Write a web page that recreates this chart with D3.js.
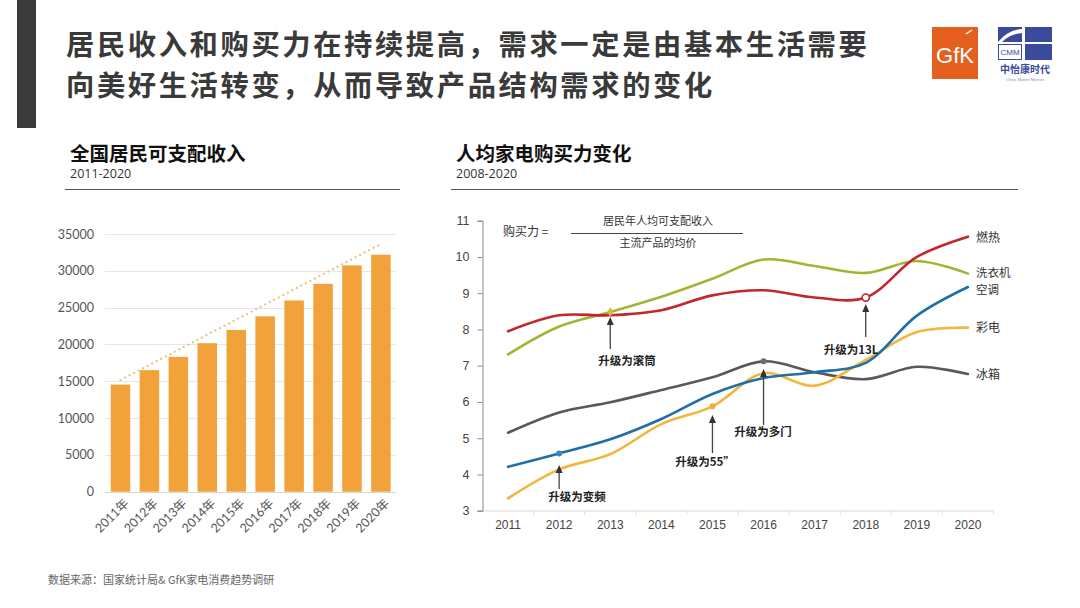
<!DOCTYPE html>
<html>
<head>
<meta charset="utf-8">
<script src="https://cdn.jsdelivr.net/npm/d3@7/dist/d3.min.js"></script>
<style>
  html, body { margin: 0; padding: 0; background: #fff; }
  svg { display: block; font-family: "Noto Sans CJK SC", "Noto Sans", sans-serif; }
</style>
</head>
<body>
<svg id="chart" width="1080" height="608"></svg>
<script>
// ---------------- DATA ----------------
const incomeYears = ["2011年","2012年","2013年","2014年","2015年","2016年","2017年","2018年","2019年","2020年"];
const incomeValues = [14551, 16510, 18311, 20167, 21966, 23821, 25974, 28228, 30733, 32189];
const incomeTrend = [15170, 33640];            // dotted trend line, 2011 -> 2020
const incomeTicks = [0, 5000, 10000, 15000, 20000, 25000, 30000, 35000];

const years = ["2011","2012","2013","2014","2015","2016","2017","2018","2019","2020"];
const powerTicks = [3, 4, 5, 6, 7, 8, 9, 10, 11];
const gasHeater   = [7.95, 8.39, 8.39, 8.53, 8.94, 9.08, 8.88, 8.88, 10.0, 10.56];  // 燃热
const washer      = [7.31, 8.08, 8.48, 8.90, 9.40, 9.93, 9.75, 9.56, 9.89, 9.54];   // 洗衣机
const aircon      = [4.21, 4.58, 4.97, 5.53, 6.22, 6.66, 6.82, 7.08, 8.38, 9.17];   // 空调
const tv          = [3.34, 4.14, 4.56, 5.39, 5.88, 6.79, 6.45, 7.16, 7.93, 8.05];   // 彩电
const fridge      = [5.15, 5.71, 5.99, 6.33, 6.68, 7.12, 6.82, 6.63, 6.97, 6.77];   // 冰箱
const seriesNames = ["燃热", "洗衣机", "空调", "彩电", "冰箱"];
const annotations = ["升级为滚筒", "升级为变频", "升级为55”", "升级为多门", "升级为13L"];
const titleLines = ["居民收入和购买力在持续提高，需求一定是由基本生活需要", "向美好生活转变，从而导致产品结构需求的变化"];

// ---------------- SETUP ----------------
const svg = d3.select("#chart");
const CJK = "'Noto Sans CJK SC', 'Noto Sans', sans-serif";
const LAT = "'Liberation Sans', Arial, sans-serif";

// left dark bar
svg.append("rect").attr("x", 17).attr("y", 0).attr("width", 19).attr("height", 128).attr("fill", "#3b3b3b");

// main title
const title = svg.append("g").attr("font-family", CJK).attr("font-weight", 700).attr("fill", "#3a3a3a")
  .attr("font-size", 28.3).attr("letter-spacing", 2.6);
title.append("text").attr("x", 66).attr("y", 55).text(titleLines[0]);
title.append("text").attr("x", 66).attr("y", 96).text(titleLines[1]);

// logos
svg.append("rect").attr("x", 932).attr("y", 27).attr("width", 46).attr("height", 52).attr("fill", "#e5601f");
svg.append("text").attr("x", 955).attr("y", 63).attr("text-anchor", "middle").attr("fill", "#fff")
  .attr("font-family", LAT).attr("font-size", 22).text("GfK");
svg.append("path").attr("d", "M966,34 L972,30").attr("stroke", "#fff").attr("stroke-width", 1.5);
const cmm = svg.append("g");
cmm.append("rect").attr("x", 998).attr("y", 27).attr("width", 24).attr("height", 15).attr("fill", "#3c4a9c");
cmm.append("rect").attr("x", 1025).attr("y", 27).attr("width", 27).attr("height", 15).attr("fill", "#3c4a9c");
cmm.append("rect").attr("x", 1025).attr("y", 44).attr("width", 27).attr("height", 16).attr("fill", "#3c4a9c");
cmm.append("path").attr("d", "M998,42 Q1008,30 1022,29 L1022,33 Q1010,34 1002,42 Z").attr("fill", "#fff");
cmm.append("rect").attr("x", 998.5).attr("y", 44.5).attr("width", 23).attr("height", 15).attr("fill", "#fff").attr("stroke", "#3c4a9c");
cmm.append("text").attr("x", 1010).attr("y", 55).attr("text-anchor", "middle").attr("font-family", LAT)
  .attr("font-size", 8).attr("fill", "#3c4a9c").text("CMM");
cmm.append("text").attr("x", 1025).attr("y", 73).attr("text-anchor", "middle").attr("font-family", CJK)
  .attr("font-weight", 700).attr("font-size", 10).attr("fill", "#3c4a9c").text("中怡康时代");
cmm.append("text").attr("x", 1025).attr("y", 81).attr("text-anchor", "middle").attr("font-family", LAT)
  .attr("font-size", 4).attr("fill", "#8a8fb8").text("China Market Monitor");

// sub titles
function subTitle(x, lineEnd, main, sub) {
  svg.append("text").attr("x", x).attr("y", 161).attr("font-family", CJK).attr("font-weight", 700)
    .attr("font-size", 19.5).attr("fill", "#111").text(main);
  svg.append("text").attr("x", x).attr("y", 178).attr("font-family", "'Open Sans', sans-serif")
    .attr("font-size", 12.5).attr("fill", "#333").text(sub);
  svg.append("line").attr("x1", x - 5).attr("x2", lineEnd).attr("y1", 189.5).attr("y2", 189.5)
    .attr("stroke", "#555").attr("stroke-width", 1);
}
subTitle(70, 400, "全国居民可支配收入", "2011-2020");
subTitle(456, 1018, "人均家电购买力变化", "2008-2020");

// ---------------- LEFT BAR CHART ----------------
const xL = d3.scaleBand().domain(incomeYears).range([106, 395.4]).paddingInner(0.326).paddingOuter(0.163);
const yL = d3.scaleLinear().domain([0, 35000]).range([491.7, 234]);

const gridL = svg.append("g");
gridL.selectAll("line").data(incomeTicks).join("line")
  .attr("x1", 105).attr("x2", 396)
  .attr("y1", d => Math.round(yL(d)) + 0.5).attr("y2", d => Math.round(yL(d)) + 0.5)
  .attr("stroke", d => d === 0 ? "#d6d6d6" : "#e6e6e6").attr("stroke-width", 1);

const yAxisL = d3.axisLeft(yL).tickValues(incomeTicks).tickSize(0).tickPadding(0).tickFormat(d3.format("d"));
const gyl = svg.append("g").attr("transform", "translate(94,0)").call(yAxisL);
gyl.select(".domain").remove();
gyl.selectAll("text").attr("font-family", "Lato, 'Open Sans', sans-serif").attr("font-size", 12.5).attr("fill", "#555");

svg.append("g").selectAll("rect").data(incomeValues).join("rect")
  .attr("x", (d, i) => xL(incomeYears[i]))
  .attr("width", xL.bandwidth())
  .attr("y", d => yL(d))
  .attr("height", d => yL(0) - yL(d))
  .attr("fill", "#f2a23a");

// trend line (dotted)
svg.append("line")
  .attr("x1", xL(incomeYears[0]) + xL.bandwidth() / 2)
  .attr("x2", xL(incomeYears[incomeYears.length - 1]) + xL.bandwidth() / 2)
  .attr("y1", yL(incomeTrend[0])).attr("y2", yL(incomeTrend[1]))
  .attr("stroke", "#edbf7a").attr("stroke-width", 2.2).attr("stroke-dasharray", "0.1,5").attr("stroke-linecap", "round");

// rotated x labels
const xAxisL = d3.axisBottom(xL).tickSize(0).tickPadding(0);
const gxl = svg.append("g").attr("transform", "translate(0,497)").call(xAxisL);
gxl.select(".domain").remove();
gxl.selectAll("text")
  .attr("font-family", "Lato, 'Noto Sans CJK SC', sans-serif").attr("font-size", 12.5).attr("fill", "#555")
  .attr("text-anchor", "end").attr("dy", "0.35em")
  .attr("transform", "translate(6,4) rotate(-45)");

// ---------------- RIGHT LINE CHART ----------------
const xR = d3.scaleBand().domain(years).range([482.5, 993.5]);
const yR = d3.scaleLinear().domain([3, 11]).range([510.7, 220.7]);
const cx = i => xR(years[i]) + xR.bandwidth() / 2;

// x axis
const xAxisR = d3.axisBottom(xR).tickSize(0).tickPadding(10);
const gxr = svg.append("g").attr("transform", "translate(0,510.5)").call(xAxisR);
gxr.select(".domain").attr("stroke", "#d9d9d9");
gxr.selectAll("text").attr("font-family", LAT).attr("font-size", 12).attr("fill", "#444");
// boundary ticks
svg.append("g").selectAll("line").data(years.slice(1).concat(["end"])).join("line")
  .attr("x1", (d, i) => i < years.length - 1 ? xR(d) : xR.range()[1])
  .attr("x2", (d, i) => i < years.length - 1 ? xR(d) : xR.range()[1])
  .attr("y1", 510.5).attr("y2", 515).attr("stroke", "#e0e0e0");

// y axis
const yAxisR = d3.axisLeft(yR).tickValues(powerTicks).tickSize(5).tickPadding(8).tickFormat(d3.format("d"));
const gyr = svg.append("g").attr("transform", "translate(482.5,0)").call(yAxisR);
gyr.select(".domain").attr("stroke", "#888");
gyr.selectAll(".tick line").attr("stroke", "#888");
gyr.selectAll("text").attr("font-family", LAT).attr("font-size", 12.5).attr("fill", "#444");

// formula
const fm = svg.append("g").attr("font-family", CJK).attr("fill", "#333");
fm.append("text").attr("x", 503).attr("y", 235.5).attr("font-size", 12).text("购买力 =");
fm.append("text").attr("x", 658).attr("y", 225).attr("font-size", 11).attr("text-anchor", "middle").text("居民年人均可支配收入");
fm.append("line").attr("x1", 571).attr("x2", 743).attr("y1", 233.5).attr("y2", 233.5).attr("stroke", "#444");
fm.append("text").attr("x", 658).attr("y", 247).attr("font-size", 11).attr("text-anchor", "middle").text("主流产品的均价");

// lines
const seriesData = [gasHeater, washer, aircon, tv, fridge];
const colors = ["#c1272d", "#a3b530", "#1f6fa6", "#f3b53e", "#595959"];
const line = d3.line().x((d, i) => cx(i)).y(d => yR(d)).curve(d3.curveCatmullRom.alpha(0.5));
const order = [4, 3, 2, 1, 0];
svg.append("g").selectAll("path").data(order).join("path")
  .attr("d", k => line(seriesData[k]))
  .attr("fill", "none").attr("stroke", k => colors[k]).attr("stroke-width", 2.6)
  .attr("stroke-linejoin", "round").attr("stroke-linecap", "round");

// markers
const markerIdx = [7, 2, 1, 4, 5];
const mg = svg.append("g");
mg.append("path").attr("d", d3.symbol(d3.symbolDiamond, 30)())
  .attr("transform", `translate(${cx(markerIdx[1])},${yR(washer[markerIdx[1]])})`).attr("fill", "#d9b64a");
mg.append("circle").attr("cx", cx(markerIdx[2])).attr("cy", yR(aircon[markerIdx[2]])).attr("r", 3).attr("fill", "#3a86c0");
mg.append("circle").attr("cx", cx(markerIdx[3])).attr("cy", yR(tv[markerIdx[3]])).attr("r", 3).attr("fill", "#f5a93a");
mg.append("circle").attr("cx", cx(markerIdx[4])).attr("cy", yR(fridge[markerIdx[4]])).attr("r", 3).attr("fill", "#6e6e6e");
mg.append("circle").attr("cx", cx(markerIdx[0])).attr("cy", yR(gasHeater[markerIdx[0]])).attr("r", 3.6)
  .attr("fill", "#fff").attr("stroke", "#c1272d").attr("stroke-width", 1.6);

// series labels
const labelY = [237.5, 272.5, 289.5, 328, 374.5];
const labelSize = [12, 11.5, 11.5, 12, 12];
svg.append("g").selectAll("text").data(seriesNames).join("text")
  .attr("x", 976).attr("y", (d, i) => labelY[i]).attr("dy", "0.35em")
  .attr("font-family", CJK).attr("font-size", (d, i) => labelSize[i]).attr("fill", "#333").text(d => d);

// annotation arrows
const ann = [
  { i: 2, tip: 317, tail: 349, tx: 627, ty: 361 },
  { i: 1, tip: 465, tail: 489, tx: 577, ty: 497 },
  { i: 4, tip: 415, tail: 453, tx: 705, ty: 462 },
  { i: 5, tip: 369, tail: 425, tx: 763, ty: 432 },
  { i: 7, tip: 304, tail: 337, tx: 851, ty: 350 }
];
const ag = svg.append("g");
ann.forEach((a, k) => {
  const x = cx(a.i);
  ag.append("line").attr("x1", x).attr("x2", x).attr("y1", a.tip + 6).attr("y2", a.tail)
    .attr("stroke", "#444").attr("stroke-width", 1.3);
  ag.append("path").attr("d", `M${x},${a.tip} L${x - 3.5},${a.tip + 8} L${x + 3.5},${a.tip + 8} Z`).attr("fill", "#333");
  ag.append("text").attr("x", a.tx).attr("y", a.ty).attr("dy", "0.35em").attr("text-anchor", "middle")
    .attr("font-family", CJK).attr("font-weight", 700).attr("font-size", 11.5).attr("fill", "#222")
    .text(annotations[k]);
});

// footer
svg.append("text").attr("x", 48).attr("y", 580).attr("dy", "0.35em").attr("font-family", CJK)
  .attr("font-size", 11).attr("fill", "#666").text("数据来源：国家统计局&  GfK家电消费趋势调研");
</script>
</body>
</html>
